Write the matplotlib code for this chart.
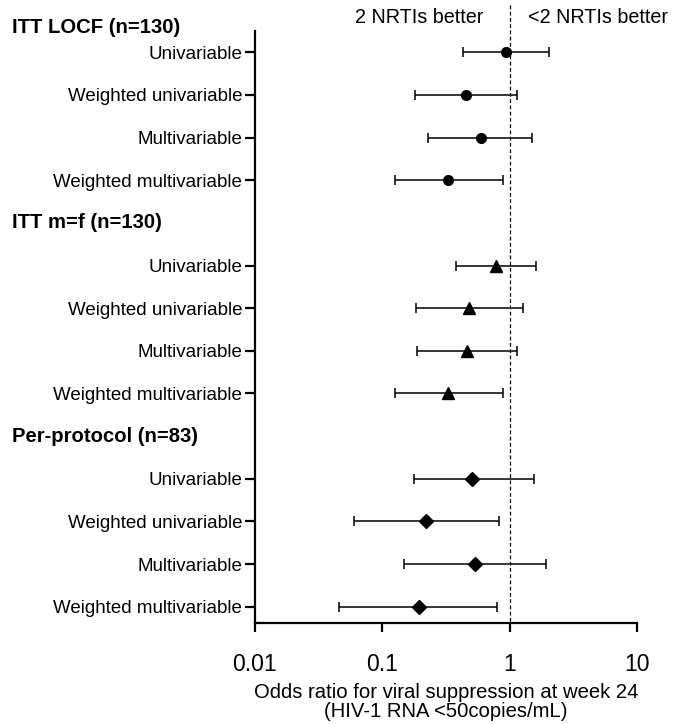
import matplotlib
matplotlib.use("Agg")
import matplotlib.pyplot as plt
from matplotlib import rcParams

rcParams["font.family"] = "Liberation Sans"

groups = ["ITT LOCF (n=130)", "ITT m=f (n=130)", "Per-protocol (n=83)"]
models = ["Univariable", "Weighted univariable", "Multivariable", "Weighted multivariable"]
markers = ["o", "^", "D"]

or_locf = [0.93, 0.45, 0.59, 0.33]
lo_locf = [0.43, 0.18, 0.23, 0.127]
hi_locf = [2.04, 1.14, 1.49, 0.88]

or_mf = [0.78, 0.48, 0.46, 0.33]
lo_mf = [0.38, 0.184, 0.188, 0.127]
hi_mf = [1.62, 1.27, 1.14, 0.88]

or_pp = [0.51, 0.22, 0.535, 0.193]
lo_pp = [0.176, 0.060, 0.148, 0.0455]
hi_pp = [1.54, 0.83, 1.92, 0.79]

xticks = [0.01, 0.1, 1, 10]
xtick_labels = ["0.01", "0.1", "1", "10"]

series = [(or_locf, lo_locf, hi_locf), (or_mf, lo_mf, hi_mf), (or_pp, lo_pp, hi_pp)]

fig = plt.figure(figsize=(6.84, 7.24), dpi=100)
ax = fig.add_axes([0.3724, 0.1399, 0.5593, 0.8173])

ytick_pos, ytick_lab = [], []
for g, (est, lo, hi) in enumerate(series):
    ys = [g * 5 + 1 + i for i in range(len(models))]
    xerr = [[e - l for e, l in zip(est, lo)], [h - e for e, h in zip(est, hi)]]
    ms = {"o": 7, "^": 8, "D": 7.5}[markers[g]]
    ax.errorbar(est, ys, xerr=xerr, fmt=markers[g], color="black", ms=ms,
                elinewidth=1.1, capsize=3.8, capthick=1.1, zorder=3)
    ytick_pos += ys
    ytick_lab += models

ax.set_xscale("log")
ax.set_xlim(0.01, 10)
ax.set_ylim(14.375, 0.5)
ax.set_xticks(xticks)
ax.set_xticklabels(xtick_labels, fontsize=16.5)
ax.minorticks_off()
ax.set_yticks(ytick_pos)
ax.set_yticklabels(ytick_lab, fontsize=13.5)

for s in ["top", "right"]:
    ax.spines[s].set_visible(False)
for s in ["left", "bottom"]:
    ax.spines[s].set_linewidth(1.6)
ax.tick_params(axis="y", length=7, width=1.6, pad=2)
ax.tick_params(axis="x", length=6.5, width=1.6, pad=15)

# reference line at OR = 1
ax.plot([1, 1], [-0.1, 14.375], color="black", lw=0.9, ls=(0, (3, 2)),
        clip_on=False, zorder=1)

# group headers
hdr_y = [0.42, 5.0, 10.0]
for name, y in zip(groups, hdr_y):
    ax.text(-0.634, y, name, transform=ax.get_yaxis_transform(), fontsize=14.6,
            fontweight="bold", ha="left", va="center")

ax.annotate("2 NRTIs better", xy=(1, 0.18), xytext=(-19, 0), textcoords="offset points",
            ha="right", va="center", fontsize=14.2, annotation_clip=False)
ax.annotate("<2 NRTIs better", xy=(1, 0.18), xytext=(13, 0), textcoords="offset points",
            ha="left", va="center", fontsize=14.2, annotation_clip=False)

ax.set_xlabel("Odds ratio for viral suppression at week 24\n(HIV-1 RNA <50copies/mL)",
              fontsize=14.6, linespacing=1.0, labelpad=5)

fig.savefig("out.png", dpi=100)
